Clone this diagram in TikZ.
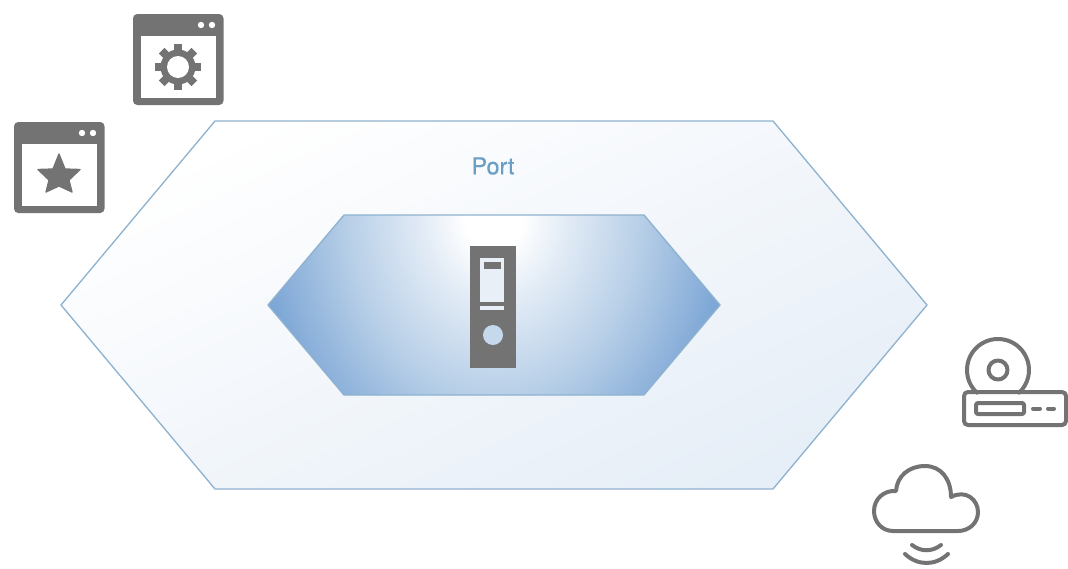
\documentclass[tikz,border=0pt]{standalone}
\usepackage{fontspec}
\setmainfont{TeX Gyre Heros}
\newfontfamily\portfont[FakeBold=0.5]{TeX Gyre Heros}
\usetikzlibrary{shapes}
\definecolor{iconGray}{RGB}{115,115,115}
\definecolor{lineBlue}{RGB}{143,178,207}
\definecolor{portBlue}{RGB}{106,159,197}
\definecolor{paleBlue}{RGB}{230,238,247}
\definecolor{slotBlue}{RGB}{232,239,247}
\definecolor{hubBlue}{RGB}{197,216,236}
\definecolor{glowA}{RGB}{227,236,246}
\definecolor{glowB}{RGB}{185,208,232}
\definecolor{glowC}{RGB}{120,163,212}
\pgfdeclareradialshading{coreglow}{\pgfpointorigin}{color(0bp)=(white); color(3bp)=(white); color(7.3bp)=(glowA); color(15bp)=(glowB); color(25bp)=(glowC); color(50bp)=(glowC)}
\tikzset{
  hexline/.style={draw=lineBlue,line width=1pt},
  iconline/.style={draw=iconGray,line width=3pt,line cap=round,line join=round}
}

\begin{document}
\begin{tikzpicture}[x=0.75pt,y=0.75pt,yscale=-1,xscale=1]
\useasboundingbox (0,0) rectangle (1068,568);

%Outer hexagon
\shade [bottom color=paleBlue,top color=white,shading angle=25] (61,305) -- (215,121) -- (773,121) -- (927,305) -- (773,489) -- (215,489) -- cycle ;
\draw [hexline] (61,305) -- (215,121) -- (773,121) -- (927,305) -- (773,489) -- (215,489) -- cycle ;

%Inner hexagon
\begin{scope}
\clip (268,305) -- (344,215) -- (644,215) -- (720,305) -- (644,395) -- (344,395) -- cycle ;
\shade [shading=coreglow] (494,215) ellipse [x radius=240,y radius=295];
\end{scope}
\draw [hexline] (268,305) -- (344,215) -- (644,215) -- (720,305) -- (644,395) -- (344,395) -- cycle ;

% Text Node
\node (portLabel) at (493,166) [inner sep=0pt,text=portBlue,font=\portfont\fontsize{17.5}{19}\selectfont] {Port};

%App windows
\foreach \wx/\wy in {133/14,14/122}
{
  \fill [iconGray,rounded corners=3.2pt] (\wx,\wy) rectangle ++(90.5,91);
  \fill [white] (\wx+8,\wy+22) rectangle (\wx+83,\wy+83.5);
  \fill [white] (\wx+68,\wy+11) circle (3.2);
  \fill [white] (\wx+79,\wy+11) circle (3.2);
}

%Gear
\foreach \a in {0,45,...,315}
  \fill [iconGray,shift={(178,67)},rotate=\a] (-4,-23) rectangle (4,-14);
\fill [iconGray] (178,67) circle (17.5);
\fill [white] (178,67) circle (11);

%Star
\fill [iconGray,line join=round,draw=iconGray,line width=1pt] (59,154) -- (65,169) -- (80,169.5) -- (69,180) -- (72,192) -- (59,186) -- (46,192) -- (49,180) -- (38,169.5) -- (53,169) -- cycle ;

%Server
\fill [iconGray] (470,246) rectangle (516,368);
\fill [slotBlue] (480,258) rectangle (504,302);
\fill [iconGray] (484,262) rectangle (501,269);
\fill [slotBlue] (480,306) rectangle (504,310);
\fill [hubBlue] (493,335) circle (10);

%Disc drive
\draw [iconline] (998,370) ++(133:31) arc [start angle=133,end angle=407,radius=31] ;
\draw [iconline] (998,370) circle (9.5);
\draw [iconline,rounded corners=3pt] (964,392) rectangle (1066,425);
\draw [iconline,rounded corners=1.5pt] (976,403) rectangle (1024,414);
\draw [iconline] (1033,408.5) -- (1040,408.5);
\draw [iconline] (1048,408.5) -- (1054,408.5);

%Cloud
\draw [iconline] (893,531) .. controls (882,531) and (874,522) .. (874,511) .. controls (874,499) and (884,490) .. (896,491) .. controls (897,476) and (909,466) .. (925,466) .. controls (941,466) and (951,479) .. (951,497) .. controls (966,489) and (978,500) .. (978,512) .. controls (978,523) and (969,531) .. (958,531) -- cycle ;
\draw [iconline] (912,545) .. controls (921,552) and (932,552) .. (941,545);
\draw [iconline] (905,554) .. controls (918,566) and (935,566) .. (948,554);

\end{tikzpicture}
\end{document}
